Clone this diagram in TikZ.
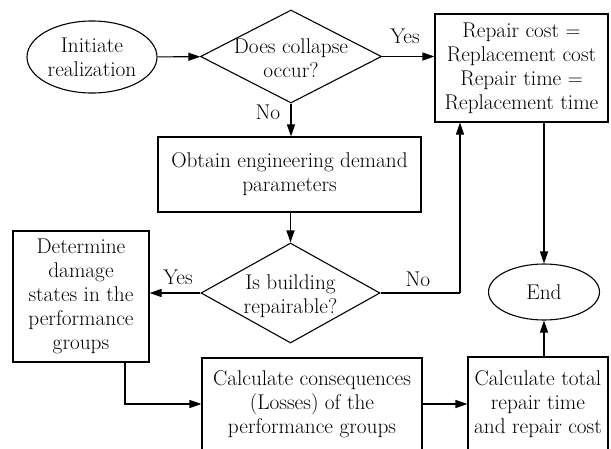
\documentclass[tikz,border=0pt]{standalone}
\usepackage{fontspec}
\setmainfont{Latin Modern Roman}
\usetikzlibrary{shapes.geometric,arrows.meta,calc}
\begin{document}
\begin{tikzpicture}[x=1pt,y=-1pt,
  every node/.style={font=\fontsize{21.3}{24}\selectfont},
  box/.style={draw,line width=1.1pt,inner sep=0pt,align=center},
  oval/.style={draw,ellipse,line width=1.1pt,inner sep=0pt,align=center},
  dia/.style={draw,diamond,line width=1.1pt,inner sep=0pt},
  lbl/.style={inner sep=0pt,align=center},
  conn/.style={line width=1.1pt,-{Triangle[length=12pt,width=8pt]}},
  plain/.style={line width=1.1pt}]
\useasboundingbox (0,0) rectangle (611,448);
\clip (0,0) rectangle (611,448);
\node[oval,minimum width=130pt,minimum height=72pt] (init) at (92,57) {Initiate\\realization};
\node[dia,minimum width=181pt,minimum height=93pt] (d1) at (291,56.5) {};
\node[lbl] (d1t) at (291,58) {Does collapse\\occur?};
\node[box,minimum width=173pt,minimum height=108pt] (rep) at (521.5,68) {Repair cost $=$\\Replacement cost\\Repair time $=$\\Replacement time};
\node[box,minimum width=263pt,minimum height=75pt] (obt) at (289.5,174.5) {Obtain engineering demand\\parameters};
\node[dia,minimum width=179pt,minimum height=100pt] (d2) at (290.5,293) {};
\node[lbl] (d2t) at (290.5,296) {Is building\\repairable?};
\node[box,minimum width=136pt,minimum height=131pt] (det) at (81,296.5) {Determine\\damage\\states in the\\performance\\groups};
\node[box,minimum width=220pt,minimum height=92pt] (cons) at (312,404) {Calculate consequences\\(Losses) of the\\performance groups};
\node[box,minimum width=140pt,minimum height=94pt] (tot) at (538,404) {Calculate total\\repair time\\and repair cost};
\node[oval,minimum width=111pt,minimum height=56pt] (end) at (544,292) {End};
\coordinate (c1) at (460,293);
\coordinate (c2) at (125,362);
\draw[conn] (init) -- (d1);
\draw[conn] (d1.east) -- (d1.east -| rep.west);
\draw[conn] (d1.south) -- (d1.south |- obt.north);
\draw[conn] (obt.south -| d2.north) -- (d2.north);
\draw[conn] (d2.west) -- (d2.west -| det.east);
\draw[plain] (d2.east) -- (c1);
\draw[conn] (c1) -- (c1 |- rep.south);
\draw[conn] (end.north |- rep.south) -- (end.north);
\draw[conn] (end.south |- tot.north) -- (end.south);
\draw[conn] (c2) |- (cons.west);
\draw[conn] (cons.east) -- (tot.west);
\node[lbl] (y1) at (405,36) {Yes};
\node[lbl] (n1) at (268,112) {No};
\node[lbl] (y2) at (178,277) {Yes};
\node[lbl] (n2) at (418,279) {No};
\end{tikzpicture}
\end{document}
